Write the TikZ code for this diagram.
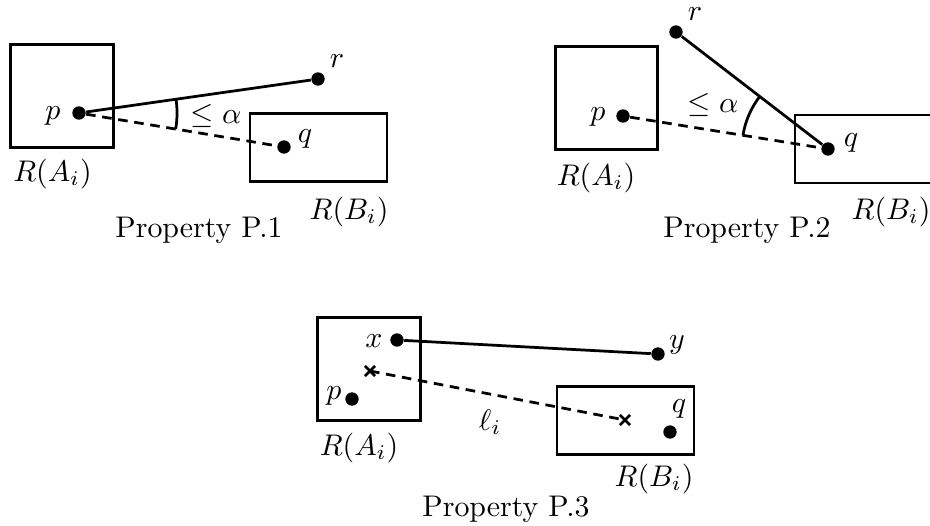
\documentclass[tikz,border=0pt]{standalone}
\begin{document}
\begin{tikzpicture}[x=0.3448pt,y=-0.3448pt,
  boxA/.style={draw, line width=0.95pt, minimum width=35.3pt, minimum height=35.3pt, inner sep=0pt},
  boxB/.style={draw, line width=0.95pt, minimum width=47.2pt, minimum height=23.5pt, inner sep=0pt},
  dot/.style={circle, fill, inner sep=0pt, minimum size=4.6pt},
  lbl/.style={anchor=base, inner sep=0pt, scale=1.03},
  seg/.style={line width=0.95pt},
  dsh/.style={line width=0.95pt, dash pattern=on 3.3pt off 2.3pt},
  crs/.style={line width=0.95pt}]
\useasboundingbox (0,0) rectangle (930,525);

% ---------- Property P.1 ----------
\node[boxA] (A1) at (62,96) {};
\node[boxB] (B1) at (318.5,147.5) {};
\node[dot] (p1) at (79,113) {};
\node[dot] (r1) at (318,79) {};
\node[dot] (q1) at (284,147) {};
\draw[seg] (p1) -- (r1);
\draw[dsh] (p1) -- (q1);
\draw[seg] ([shift={(-9.42:33.8pt)}]p1.center) arc[start angle=-9.42, end angle=8.10, radius=33.8pt];
\node[lbl] (lp1) at (53,119.5) {$p$};
\node[lbl] (lr1) at (337,67) {$r$};
\node[lbl] (lq1) at (305,142.5) {$q$};
\node[lbl] (la1) at (216,123) {$\leq\alpha$};
\node[lbl] (lA1) at (52.5,181.5) {$R(A_i)$};
\node[lbl] (lB1) at (349,219.5) {$R(B_i)$};
\node[lbl] (t1) at (199,237) {Property P.1};

% ---------- Property P.2 ----------
\node[boxA] (A2) at (606.5,98) {};
\node[boxB] (B2) at (863.5,149) {};
\node[dot] (p2) at (623,116) {};
\node[dot] (r2) at (676,32) {};
\node[dot] (q2) at (828,149) {};
\draw[seg] (r2) -- (q2);
\draw[dsh] (p2) -- (q2);
\draw[seg] ([shift={(170.86:29.7pt)}]q2.center) arc[start angle=170.86, end angle=142.41, radius=29.7pt];
\node[lbl] (lp2) at (598,120) {$p$};
\node[lbl] (lr2) at (695,20) {$r$};
\node[lbl] (lq2) at (851,146) {$q$};
\node[lbl] (la2) at (713,112) {$\leq\alpha$};
\node[lbl] (lA2) at (596,185.5) {$R(A_i)$};
\node[lbl] (lB2) at (891,219.5) {$R(B_i)$};
\node[lbl] (t2) at (747,237) {Property P.2};

% ---------- Property P.3 ----------
\node[boxA] (A3) at (369,369) {};
\node[boxB] (B3) at (625.5,420.5) {};
\node[dot] (x3) at (397,340) {};
\node[dot] (y3) at (658,354) {};
\node[dot] (p3) at (352,399) {};
\node[dot] (q3) at (670,432) {};
\coordinate (c1) at (370,371);
\coordinate (c2) at (625,420);
\draw[crs] ([shift={(-1.75pt,-1.75pt)}]c1) -- ([shift={(1.75pt,1.75pt)}]c1)
           ([shift={(-1.75pt,1.75pt)}]c1) -- ([shift={(1.75pt,-1.75pt)}]c1);
\draw[crs] ([shift={(-1.75pt,-1.75pt)}]c2) -- ([shift={(1.75pt,1.75pt)}]c2)
           ([shift={(-1.75pt,1.75pt)}]c2) -- ([shift={(1.75pt,-1.75pt)}]c2);
\draw[seg] (x3) -- (y3);
\draw[dsh] (c1) -- (c2);
\node[lbl] (lx3) at (374,347) {$x$};
\node[lbl] (ly3) at (677,348) {$y$};
\node[lbl] (lp3) at (334,399.5) {$p$};
\node[lbl] (lq3) at (679,412.5) {$q$};
\node[lbl] (ll3) at (490,430) {$\ell_i$};
\node[lbl] (lA3) at (359,455) {$R(A_i)$};
\node[lbl] (lB3) at (654,486) {$R(B_i)$};
\node[lbl] (t3) at (506,516) {Property P.3};
\end{tikzpicture}
\end{document}
